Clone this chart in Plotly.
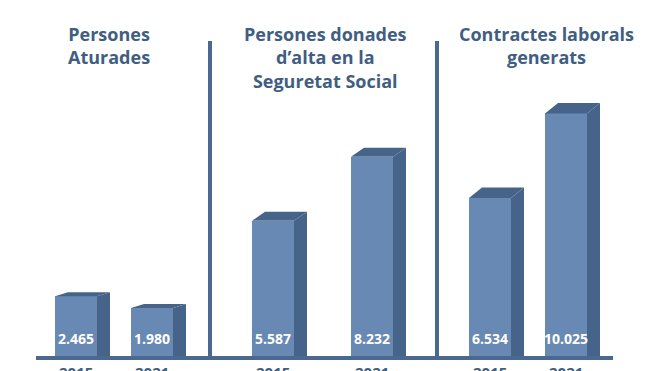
import plotly.graph_objects as go

# ---------------- data ----------------
panel_titles = [
    "Persones<br>Aturades",
    "Persones donades<br>d’alta en la<br>Seguretat Social",
    "Contractes laborals<br>generats",
]
years = ["2015", "2021"]
values_2015 = [2465, 5587, 6534]
values_2021 = [1980, 8232, 10025]

# ---------------- layout / style constants ----------------
W, H = 659, 371
BASE_PX = 356            # pixel row of the baseline (top edge)
K = 0.0242               # pixels per unit
Y_MIN = -(H - BASE_PX) / K
Y_MAX = BASE_PX / K

panel_centers = [109, 325, 546]
bar_centers = [[76, 152], [273, 372], [490, 566]]
bar_w = 42
depth_dx = 13
depth_dy_px = [4, 9, 10.5]
dividers_x = [210, 437]
divider_top_px = 41
base_x0, base_x1 = 36, 613

FRONT = "#6789b4"
DARK = "#46648a"
LINE = "#4a6890"
TITLE = "#3f5e82"
FONT = "Open Sans"


def px_to_y(p):
    return (BASE_PX - p) / K


def fmt(v):
    return f"{v:,}".replace(",", ".")


fig = go.Figure()
annotations = []

for p in range(3):
    vals = [values_2015[p], values_2021[p]]
    dy = depth_dy_px[p] / K
    for i, v in enumerate(vals):
        xc = bar_centers[p][i]
        L, R = xc - bar_w / 2, xc + bar_w / 2
        # side face
        fig.add_trace(go.Scatter(
            x=[R, R + depth_dx, R + depth_dx, R, R],
            y=[v, v + dy, 0, 0, v],
            fill="toself", fillcolor=DARK, mode="lines",
            line=dict(width=0, color=DARK), hoverinfo="skip", showlegend=False))
        # top face
        fig.add_trace(go.Scatter(
            x=[L, L + depth_dx, R + depth_dx, R, L],
            y=[v, v + dy, v + dy, v, v],
            fill="toself", fillcolor=DARK, mode="lines",
            line=dict(width=0, color=DARK), hoverinfo="skip", showlegend=False))
    # front faces
    fig.add_trace(go.Bar(
        x=bar_centers[p], y=vals, width=bar_w,
        marker=dict(color=FRONT, line=dict(width=0)),
        showlegend=False, hoverinfo="skip"))
    for i, v in enumerate(vals):
        xc = bar_centers[p][i]
        annotations.append(dict(
            x=xc, y=0, xref="x", yref="y", yanchor="middle", yshift=18,
            text=f"<b>{fmt(v)}</b>", showarrow=False,
            font=dict(family=FONT, size=14, color="white")))
        annotations.append(dict(
            x=xc, y=0, xref="x", yref="y", yanchor="top", yshift=-4,
            text=f"<b>{years[i]}</b>", showarrow=False,
            font=dict(family=FONT, size=15, color=TITLE)))
    annotations.append(dict(
        x=panel_centers[p], y=1 - 20 / H, xref="x", yref="paper",
        yanchor="top", text=f"<b>{panel_titles[p]}</b>", showarrow=False,
        align="center", font=dict(family=FONT, size=18, color=TITLE)))

shapes = [dict(type="rect", xref="x", yref="y", x0=base_x0, x1=base_x1,
               y0=px_to_y(360), y1=px_to_y(BASE_PX), fillcolor=LINE,
               line=dict(width=0), layer="above")]
for dxp in dividers_x:
    shapes.append(dict(type="rect", xref="x", yref="y", x0=dxp - 2, x1=dxp + 2,
                       y0=0, y1=px_to_y(divider_top_px), fillcolor=LINE,
                       line=dict(width=0)))

fig.update_layout(
    width=W, height=H, margin=dict(l=0, r=0, t=0, b=0),
    paper_bgcolor="white", plot_bgcolor="white",
    xaxis=dict(range=[0, W], visible=False, fixedrange=True),
    yaxis=dict(range=[Y_MIN, Y_MAX], visible=False, fixedrange=True),
    shapes=shapes, annotations=annotations, bargap=0,
)

fig.write_html(
    "out.html",
    config={"displayModeBar": False},
    post_script="document.body.style.margin='0';document.body.style.overflow='hidden';",
)
